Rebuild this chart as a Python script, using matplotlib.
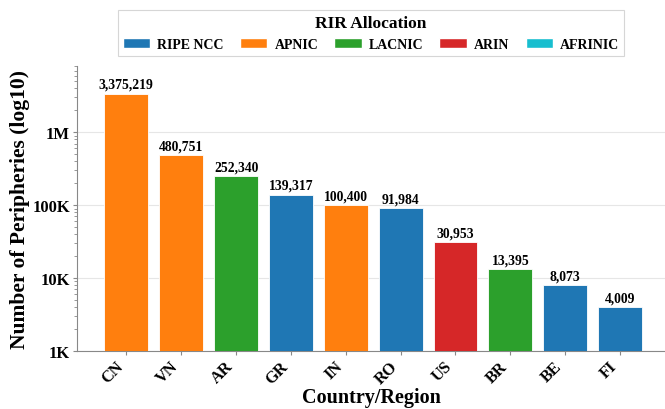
import matplotlib.pyplot as plt
from matplotlib.patches import Patch
from matplotlib.ticker import FuncFormatter, LogLocator
import numpy as np

countries = ["CN", "VN", "AR", "GR", "IN", "RO", "US", "BR", "BE", "FI"]
peripheries = [3375219, 480751, 252340, 139317, 100400, 91984, 30953, 13395, 8073, 4009]
rirs = ["APNIC", "APNIC", "LACNIC", "RIPE NCC", "APNIC", "RIPE NCC", "ARIN", "LACNIC", "RIPE NCC", "RIPE NCC"]

rir_names = ["RIPE NCC", "APNIC", "LACNIC", "ARIN", "AFRINIC"]
rir_colors = {
    "RIPE NCC": "#1f77b4",
    "APNIC": "#ff7f0e",
    "LACNIC": "#2ca02c",
    "ARIN": "#d62728",
    "AFRINIC": "#17becf",
}

plt.rcParams["font.family"] = ["Liberation Serif", "DejaVu Serif"]
plt.rcParams["font.weight"] = "bold"


def fmt_k(v, pos):
    if v >= 1e6:
        return f"{v / 1e6:g}M"
    if v >= 1e3:
        return f"{v / 1e3:g}K"
    return f"{v:g}"


def main():
    fig = plt.figure(figsize=(6.65, 4.10), dpi=100)
    ax = fig.add_axes([77 / 665, 1 - 352 / 410, (665 - 77) / 665, (352 - 67) / 410])

    x = np.arange(len(countries))
    colors = [rir_colors[r] for r in rirs]
    bars = ax.bar(x, peripheries, width=0.8, color=colors, edgecolor="white",
                  linewidth=0.6, zorder=3)

    for b, v in zip(bars, peripheries):
        ax.annotate(f"{v:,}", (b.get_x() + b.get_width() / 2, v),
                    xytext=(0, 2), textcoords="offset points",
                    ha="center", va="bottom", fontsize=9.8, fontweight="bold")

    ax.set_yscale("log")
    ax.set_ylim(1e3, max(peripheries) * 2.4)
    ax.set_xlim(-0.9, 9.82)
    ax.yaxis.set_major_locator(LogLocator(base=10, numticks=10))
    ax.yaxis.set_major_formatter(FuncFormatter(fmt_k))
    ax.grid(True, axis="y", which="major", color="#e6e6e6", linewidth=0.8, zorder=0)

    ax.set_xticks(x)
    ax.set_xticklabels(countries, rotation=45, ha="right",
                       fontsize=11.8, fontweight="bold")
    for lab in ax.get_yticklabels():
        lab.set_fontsize(12)
        lab.set_fontweight("bold")

    for side in ["top", "right"]:
        ax.spines[side].set_visible(False)
    for side in ["left", "bottom"]:
        ax.spines[side].set_color("#888888")
    ax.tick_params(axis="both", which="major", color="#888888", length=3, pad=2)
    ax.tick_params(axis="y", which="minor", color="#888888", length=2)

    ax.set_xlabel("Country/Region", fontsize=14.5, fontweight="bold", va="top")
    ax.xaxis.set_label_coords(0.5, -0.125)
    ax.set_ylabel("Number of Peripheries (log10)", fontsize=15.5, fontweight="bold",
                  labelpad=2)

    handles = [Patch(facecolor=rir_colors[n], edgecolor="white", label=n) for n in rir_names]
    leg = ax.legend(handles=handles, title="RIR Allocation", ncol=5,
                    loc="lower center", bbox_to_anchor=(0.5, 1.035),
                    prop={"weight": "bold", "size": 10},
                    title_fontproperties={"weight": "bold", "size": 12.5},
                    frameon=True, fancybox=False, edgecolor="#cccccc",
                    handlelength=2.0, columnspacing=1.15, borderpad=0.35,
                    handletextpad=0.5, borderaxespad=0)
    leg.get_frame().set_linewidth(0.8)

    fig.savefig("out.png", dpi=100)


if __name__ == "__main__":
    main()
